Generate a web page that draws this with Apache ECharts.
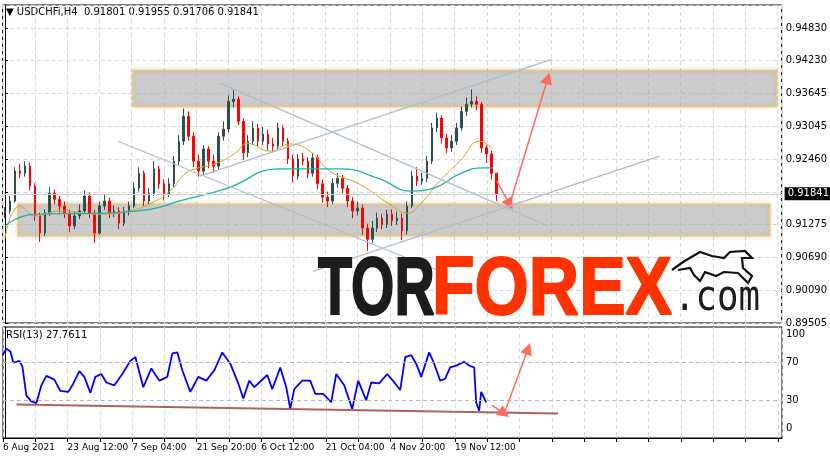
<!DOCTYPE html>
<html><head><meta charset="utf-8">
<script src="https://cdn.jsdelivr.net/npm/echarts@6/dist/echarts.min.js"></script>
<style>html,body{margin:0;padding:0;background:#fff}#c{width:830px;height:456px}</style>
</head><body><div id="c"></div>
<script>
// ---- data ----
const priceTicks = ['0.89505','0.90090','0.90690','0.91275','0.91875','0.92460','0.93045','0.93645','0.94230','0.94830'];
const priceBase = 0.89505, priceStep = 0.005925;
const lastPrice = 0.91841;
const xLabels = ['6 Aug 2021','23 Aug 12:00','7 Sep 04:00','21 Sep 20:00','6 Oct 12:00','21 Oct 04:00','4 Nov 20:00','19 Nov 12:00'];
const firstOpen = 0.9150;
const closes = [.9153,.9171,.9225,.9221,.9234,.9198,.9144,.9113,.9149,.9185,.9174,.9162,.9149,.9126,.9144,.9153,.9180,.9149,.9113,.9162,
.9171,.9149,.9153,.9131,.9153,.9162,.9194,.9221,.9171,.9185,.9229,.9202,.9184,.9202,.9243,.9279,.9324,.9288,.9243,.9225,
.9265,.9243,.9234,.9288,.9301,.9351,.9355,.9315,.9258,.9279,.9303,.9279,.9292,.9274,.9270,.9303,.9279,.9247,.9216,.9247,
.9243,.9221,.9249,.9202,.9178,.9171,.9203,.9212,.9194,.9171,.9153,.9158,.9122,.9102,.9122,.9140,.9129,.9147,.9135,.9140,
.9117,.9162,.9216,.9207,.9212,.9243,.9303,.9321,.9285,.9267,.9279,.9303,.9333,.9346,.9351,.9346,.9267,.9256,.9221,.91841];
const highs = [.9160,.9180,.9232,.9238,.9243,.9240,.9203,.9150,.9156,.9196,.9192,.9180,.9170,.9155,.9152,.9165,.9190,.9186,.9155,.9170,
.9183,.9177,.9163,.9160,.9160,.9170,.9205,.9232,.9226,.9195,.9243,.9235,.9210,.9212,.9252,.9290,.9338,.9333,.9295,.9255,
.9272,.9270,.9255,.9295,.9315,.9362,.9373,.9360,.9320,.9290,.9315,.9310,.9305,.9300,.9285,.9312,.9308,.9285,.9255,.9256,
.9258,.9250,.9258,.9255,.9210,.9188,.9212,.9222,.9218,.9200,.9178,.9170,.9165,.9130,.9135,.9150,.9148,.9155,.9156,.9152,
.9148,.9170,.9225,.9232,.9222,.9252,.9312,.9330,.9326,.9292,.9290,.9312,.9342,.9358,.9373,.9360,.9350,.9272,.9262,.91955];
const lows = [.9140,.9148,.9168,.9212,.9215,.9190,.9135,.9097,.9108,.9144,.9165,.9150,.9140,.9115,.9120,.9138,.9148,.9140,.9095,.9110,
.9155,.9140,.9142,.9120,.9126,.9145,.9158,.9188,.9162,.9165,.9180,.9193,.9172,.9178,.9196,.9236,.9272,.9280,.9232,.9215,
.9218,.9230,.9222,.9228,.9280,.9295,.9340,.9308,.9245,.9250,.9272,.9268,.9272,.9262,.9260,.9265,.9270,.9238,.9205,.9210,
.9235,.9212,.9215,.9192,.9168,.9160,.9165,.9195,.9185,.9160,.9140,.9145,.9110,.9081,.9095,.9115,.9120,.9122,.9126,.9128,
.9100,.9110,.9158,.9198,.9200,.9205,.9238,.9295,.9275,.9258,.9260,.9272,.9298,.9325,.9340,.9335,.9258,.9240,.9210,.91706];
// moving averages: [bar, price]
const maFast = [[0,.9104],[15,.9162],[30,.9144],[55,.9153],[95,.9147],[125,.9153],[145,.9166],[165,.9189],[180,.9220],[190,.9229],[210,.9238],[230,.9257],[243,.9275],[265,.9261],[285,.9274],[305,.9261],[325,.9225],[355,.9201],[385,.9165],[403,.9149],[415,.9165],[435,.9207],[455,.9243],[475,.9279],[488,.9265]];
const maSlow = [[0,.9126],[28,.9147],[95,.9149],[145,.9156],[175,.9171],[222,.9194],[275,.9229],[335,.9229],[375,.9211],[405,.9189],[428,.9194],[455,.9220],[478,.9231],[488,.9231]];
// RSI: [bar, value]
const rsi = [[-3,78],[1,85],[5,82],[8,70],[14,72],[17,66],[21,35],[26,29],[31,27],[36,46],[41,56],[49,52],[55,40],[63,39],[68,48],[74,61],[79,55],[85,38],[90,55],[96,58],[101,49],[109,46],[117,58],[125,72],[130,76],[138,44],[146,64],[154,51],[162,55],[167,80],[172,81],[177,62],[185,39],[193,55],[201,51],[209,62],[217,81],[225,69],[233,48],[238,32],[244,51],[249,44],[254,49],[262,57],[267,42],[275,65],[281,44],[285,21],[289,42],[297,51],[305,51],[310,37],[318,37],[326,28],[331,58],[339,46],[347,21],[353,51],[361,30],[366,49],[374,48],[382,58],[390,48],[395,41],[400,76],[406,78],[411,69],[416,55],[424,81],[429,69],[435,51],[440,53],[445,65],[451,67],[459,71],[464,67],[469,65],[471,28],[474,19],[476,39],[481,28]];
const rsiTrend = [[11,25.5],[553,16]];
const rsiArrows = [[[487,25],[499,16]],[[499,16],[523,85]]];
// drawings: [bar, price]
const boxTop = [[128,.9407],[772,.9342]];
const boxBottom = [[13,.9165],[765,.9108]];
const trendLines = [[[113,.9279],[435,.9044]],[[215,.9384],[543,.9126]],[[195,.9216],[547,.9427]],[[308,.9044],[655,.9252]]];
const priceArrows = [[[492,.9207],[505,.9165]],[[505,.9165],[543,.9393]]];

// ---- build ----
const U = p => (p - priceBase) / priceStep;
const N = 157;
const cats = Array.from({length: N}, (_, i) => String(i));
const ohlc = closes.map((c, i) => { const o = i ? closes[i-1] : firstOpen; return [U(o), U(c), U(lows[i]), U(highs[i])]; });
const P = a => a.map(d => [d[0], U(d[1])]);
const gridLine = {show:true, lineStyle:{color:'#d8d8d8', type:[4,3]}};
const barMin = -2.4, barMax = 777;
const arrowSeries = (list, xi, yi) => ({type:'line', xAxisIndex:xi, yAxisIndex:yi, data:[], z:6, silent:true,
  markLine:{silent:true, symbol:['none','triangle'], symbolSize:12, label:{show:false}, animation:false,
    lineStyle:{color:'#ff6a5c', width:1.5, type:'solid'}, itemStyle:{color:'#ff6a5c'},
    data: list.map(a => [{coord:a[0]},{coord:a[1]}])}});

const series = [
  {type:'candlestick', xAxisIndex:0, yAxisIndex:0, data: ohlc, barMaxWidth:2, z:2,
   itemStyle:{color:'#2f4f4f', color0:'#ff0000', borderColor:'#2f4f4f', borderColor0:'#ff0000', borderWidth:1},
   markLine:{silent:true, symbol:'none', data:[{yAxis:U(lastPrice)}], lineStyle:{color:'#d0d0d0', width:1, type:'solid'},
     label:{position:'end', formatter: lastPrice.toFixed(5), backgroundColor:'#000', color:'#fff', fontSize:10, fontFamily:'DejaVu Sans', padding:[2,3,1,3], distance:3}}},
  {type:'line', xAxisIndex:1, yAxisIndex:0, data:P(maFast), showSymbol:false, smooth:true, lineStyle:{color:'#daa520', width:1}, z:3, silent:true},
  {type:'line', xAxisIndex:1, yAxisIndex:0, data:P(maSlow), showSymbol:false, smooth:true, lineStyle:{color:'#20b2aa', width:1.3}, z:3, silent:true},
  {type:'line', xAxisIndex:1, yAxisIndex:0, data:[], z:4, silent:true,
   markArea:{silent:true, itemStyle:{color:'rgba(185,185,185,0.55)', borderColor:'#f0c870', borderWidth:1.5, shadowBlur:4, shadowColor:'rgba(0,0,0,0.2)'},
     data:[[{coord:[boxTop[0][0],U(boxTop[0][1])]},{coord:[boxTop[1][0],U(boxTop[1][1])]}],
           [{coord:[boxBottom[0][0],U(boxBottom[0][1])]},{coord:[boxBottom[1][0],U(boxBottom[1][1])]}]]}},
  ...trendLines.map(l => ({type:'line', xAxisIndex:1, yAxisIndex:0, data:P(l), showSymbol:false, silent:true, z:5, lineStyle:{color:'#adbfcf', width:1.3}})),
  arrowSeries(priceArrows.map(a => P(a)), 1, 0),
  {type:'line', xAxisIndex:3, yAxisIndex:1, data:rsi, showSymbol:false, lineStyle:{color:'#0000ff', width:1.8}, z:3, silent:true,
   markLine:{silent:true, symbol:'none', label:{show:false}, lineStyle:{color:'#b8b8b8', type:[4,3], width:1}, data:[{yAxis:30},{yAxis:70}]}},
  {type:'line', xAxisIndex:3, yAxisIndex:1, data:rsiTrend, showSymbol:false, silent:true, z:4, lineStyle:{color:'#b06060', width:2}},
  arrowSeries(rsiArrows, 3, 1),
];

const chart = echarts.init(document.getElementById('c'), null, {renderer:'canvas'});
chart.setOption({
  animation:false,
  backgroundColor:'#fff',
  textStyle:{fontFamily:'DejaVu Sans'},
  grid:[{left:2.6, right:48, top:5, bottom:133, show:true, borderColor:'#000', borderWidth:1},
        {left:2.6, right:48, top:327, bottom:18, show:true, borderColor:'#000', borderWidth:1}],
  xAxis:[
    {type:'category', gridIndex:0, data:cats, show:false, boundaryGap:true},
    {type:'value', gridIndex:0, min:barMin, max:barMax, show:false},
    {type:'value', gridIndex:0, min:0, max:24.13, interval:1, axisLine:{show:false}, axisTick:{show:false}, axisLabel:{show:false}, splitLine:gridLine},
    {type:'value', gridIndex:1, min:barMin, max:barMax, show:false},
    {type:'value', gridIndex:1, min:0, max:24.13, interval:1, position:'bottom',
     axisLine:{show:true, lineStyle:{color:'#000'}}, axisTick:{show:true, length:4, lineStyle:{color:'#000'}},
     axisLabel:{show:true, align:'left', fontSize:9, color:'#000', margin:5, showMaxLabel:false,
       formatter:v => (Math.abs(v - Math.round(v)) < 1e-6 && Math.round(v) % 2 === 0 && xLabels[Math.round(v)/2]) ? xLabels[Math.round(v)/2] : ''},
     splitLine:gridLine}
  ],
  yAxis:[
    {type:'value', gridIndex:0, position:'right', min:0, max:9.7, interval:1,
     axisLine:{show:true, lineStyle:{color:'#000'}}, axisTick:{show:true, length:3, lineStyle:{color:'#000'}},
     axisLabel:{fontSize:10, color:'#000', margin:4, showMaxLabel:false, formatter:v => (v===4 ? '' : (priceTicks[Math.round(v)] || ''))},
     splitLine:gridLine},
    {type:'value', gridIndex:1, position:'right', min:-10, max:108, interval:10,
     axisLine:{show:true, lineStyle:{color:'#000'}}, axisTick:{show:false},
     axisLabel:{fontSize:10, color:'#000', margin:4, showMaxLabel:false, formatter:v => ([0,30,70,100].includes(v) ? String(v) : '')},
     splitLine:{show:false}}
  ],
  graphic:[
    {type:'text', left:6, top:7, style:{text:'\u25BC USDCHFi,H4  0.91801 0.91955 0.91706 0.91841', fontSize:10, fontFamily:'DejaVu Sans', fill:'#000'}},
    {type:'text', left:6, top:330, style:{text:'RSI(13) 27.7611', fontSize:10, fontFamily:'DejaVu Sans', fill:'#000'}},
    {type:'text', x:318, y:250, scaleX:0.68, z:10, style:{text:'TOR', font:'bold 82px "Liberation Sans"', fill:'#1c1c1c', stroke:'#1c1c1c', lineWidth:2}},
    {type:'text', x:432, y:250, scaleX:0.85, z:10, style:{text:'FOREX', font:'bold 82px "Liberation Sans"', fill:'#ff3300', stroke:'#ff3300', lineWidth:2}},
    {type:'text', x:674, y:278, scaleX:0.85, z:10, style:{text:'.com', font:'42px "DejaVu Sans Mono"', fill:'#1c1c1c'}},
    {type:'polyline', z:10, shape:{points:[[672,270],[683,262],[700,252],[712,256],[724,258],[730,252],[745,251],[752,258],[742,258],[743,268],[752,276],[748,283],[738,273],[724,272],[716,276],[705,272],[700,281],[694,275],[690,268],[678,270]]},
     style:{stroke:'#111', lineWidth:2.2, fill:'none'}}
  ],
  series
});
</script></body></html>
